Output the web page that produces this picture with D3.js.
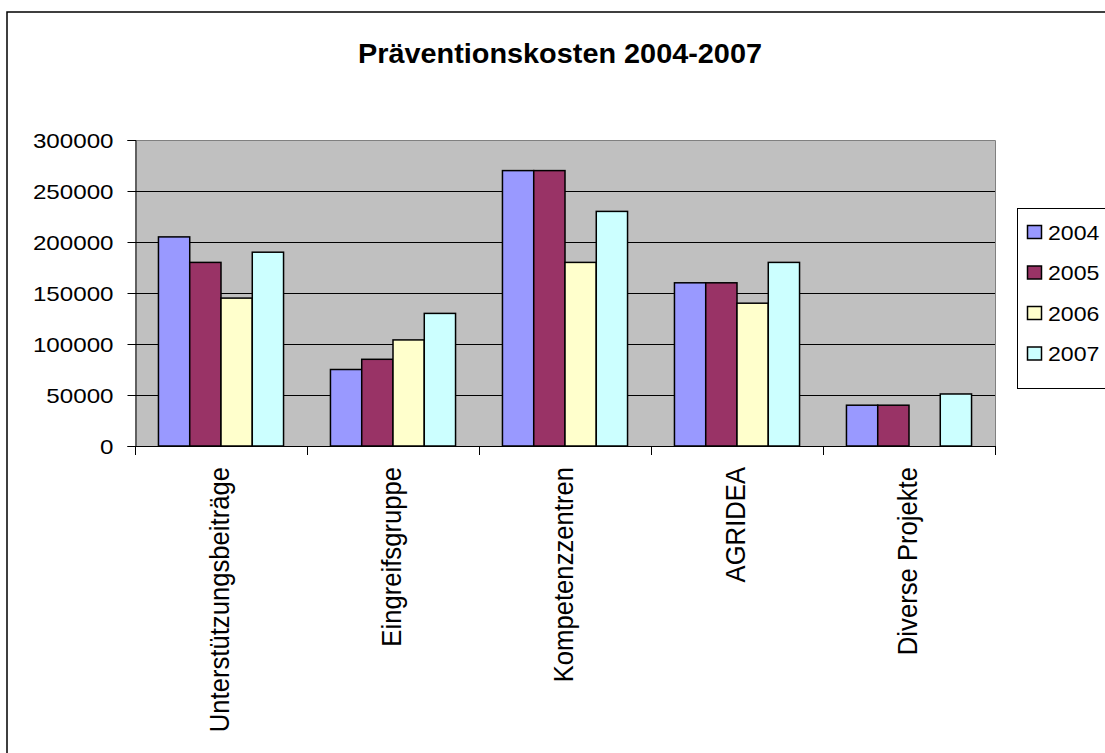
<!DOCTYPE html>
<html>
<head>
<meta charset="utf-8">
<script src="https://cdn.jsdelivr.net/npm/d3@7"></script>
<style>
  html, body { margin: 0; padding: 0; background: #fff; }
  svg { display: block; }
</style>
</head>
<body>
<svg id="chart" width="1105" height="753"></svg>
<script>
const categories = ['Unterstützungsbeiträge', 'Eingreifsgruppe', 'Kompetenzzentren', 'AGRIDEA', 'Diverse Projekte']
const years = ['2004', '2005', '2006', '2007']
const values2004 = [205000, 75000, 270000, 160000, 40000]
const values2005 = [180000, 85000, 270000, 160000, 40000]
const values2006 = [145000, 104000, 180000, 140000, null]
const values2007 = [190000, 130000, 230000, 180000, 51000]
const yTicks = [0, 50000, 100000, 150000, 200000, 250000, 300000]

const series = [values2004, values2005, values2006, values2007]
const colors = ['#9999FF', '#993366', '#FFFFCC', '#CCFFFF']

const font = 'Arial, "Liberation Sans", sans-serif'
const plot = { left: 135, top: 140, right: 995, bottom: 446 }

const svg = d3.select('#chart')

// stretch text along its own direction to match the reference's wide glyphs
function stretch(sel, k) {
  sel.each(function () {
    const len = this.getComputedTextLength()
    d3.select(this).attr('textLength', len * k).attr('lengthAdjust', 'spacingAndGlyphs')
  })
}

// outer chart frame (runs past the right and bottom edge)
svg.append('rect')
  .attr('x', 7).attr('y', 12)
  .attr('width', 1200).attr('height', 800)
  .attr('fill', '#fff')
  .attr('stroke', '#000')
  .attr('stroke-width', 1.5)

// title
svg.append('text')
  .attr('x', 560).attr('y', 63)
  .attr('text-anchor', 'middle')
  .attr('font-family', font)
  .attr('font-weight', 'bold')
  .attr('font-size', 28)
  .text('Präventionskosten 2004-2007')
  .call(stretch, 1.03)

const x = d3.scaleBand()
  .domain(categories)
  .range([plot.left, plot.right])
  .padding(0)

const y = d3.scaleLinear()
  .domain([0, 300000])
  .range([plot.bottom, plot.top])

// Excel gap width 150%
const gap = x.bandwidth() / (years.length + 1.5) * 1.5
const xs = d3.scaleBand()
  .domain(years)
  .range([gap / 2, x.bandwidth() - gap / 2])
  .padding(0)

// plot area background
svg.append('rect')
  .attr('x', plot.left).attr('y', plot.top)
  .attr('width', plot.right - plot.left)
  .attr('height', plot.bottom - plot.top)
  .attr('fill', '#C0C0C0')

// gridlines
svg.append('g')
  .selectAll('line')
  .data(yTicks.filter(d => d > 0 && d < 300000))
  .enter()
  .append('line')
  .attr('x1', plot.left).attr('x2', plot.right)
  .attr('y1', d => Math.round(y(d)) + 0.5)
  .attr('y2', d => Math.round(y(d)) + 0.5)
  .attr('stroke', '#000')
  .attr('stroke-width', 1)

// plot border top / right
svg.append('path')
  .attr('d', `M${plot.left},${plot.top + 0.5}H${plot.right + 0.5}V${plot.bottom}`)
  .attr('fill', 'none')
  .attr('stroke', '#808080')
  .attr('stroke-width', 1)

// bars
const groups = svg.append('g')
  .selectAll('g')
  .data(categories)
  .enter()
  .append('g')
  .attr('transform', d => `translate(${x(d)},0)`)

groups.selectAll('rect')
  .data((d, i) => years.map((yr, j) => ({ year: yr, value: series[j][i], color: colors[j] })))
  .enter()
  .filter(d => d.value != null)
  .append('rect')
  .attr('x', d => xs(d.year))
  .attr('y', d => y(d.value))
  .attr('width', xs.bandwidth())
  .attr('height', d => y(0) - y(d.value))
  .attr('fill', d => d.color)
  .attr('stroke', '#000')
  .attr('stroke-width', 1.5)

// y axis
const yAxis = svg.append('g')
  .attr('transform', `translate(${plot.left + 0.5},0)`)
  .call(d3.axisLeft(y).tickValues(yTicks).tickSize(8).tickPadding(14).tickFormat(d3.format('d')))

yAxis.select('.domain').attr('stroke', '#000')
yAxis.selectAll('.tick line').attr('stroke', '#000')
yAxis.selectAll('.tick text')
  .attr('font-family', font)
  .attr('font-size', 21)
  .attr('fill', '#000')
  .attr('dy', '0.36em')
  .call(stretch, 1.15)

// x axis line + ticks at category boundaries
const xAxis = svg.append('g')
svg.append('line')
  .attr('x1', plot.left).attr('x2', plot.right + 0.5)
  .attr('y1', plot.bottom + 0.5).attr('y2', plot.bottom + 0.5)
  .attr('stroke', '#000')

xAxis.selectAll('line')
  .data(categories.map(c => x(c)).concat([plot.right]))
  .enter()
  .append('line')
  .attr('x1', d => Math.round(d) + 0.5).attr('x2', d => Math.round(d) + 0.5)
  .attr('y1', plot.bottom).attr('y2', plot.bottom + 9)
  .attr('stroke', '#000')

// rotated category labels
xAxis.selectAll('text')
  .data(categories)
  .enter()
  .append('text')
  .attr('transform', d => `translate(${x(d) + x.bandwidth() / 2},467) rotate(-90)`)
  .attr('text-anchor', 'end')
  .attr('dy', '0.3em')
  .attr('font-family', font)
  .attr('font-size', 27)
  .attr('fill', '#000')
  .text(d => d)
  .call(stretch, 0.95)

// legend
const legend = svg.append('g')
legend.append('rect')
  .attr('x', 1017.5).attr('y', 208.5)
  .attr('width', 120).attr('height', 180)
  .attr('fill', '#fff')
  .attr('stroke', '#000')
  .attr('stroke-width', 1)

const items = legend.selectAll('g.item')
  .data(years)
  .enter()
  .append('g')
  .attr('class', 'item')
  .attr('transform', (d, i) => `translate(0,${232 + i * 40.5})`)

items.append('rect')
  .attr('x', 1027.5).attr('y', -6.5)
  .attr('width', 14).attr('height', 13)
  .attr('fill', (d, i) => colors[i])
  .attr('stroke', '#000')
  .attr('stroke-width', 1.5)

items.append('text')
  .attr('x', 1048)
  .attr('dy', '0.36em')
  .attr('font-family', font)
  .attr('font-size', 21)
  .attr('fill', '#000')
  .text(d => d)
  .call(stretch, 1.1)
</script>
</body>
</html>
